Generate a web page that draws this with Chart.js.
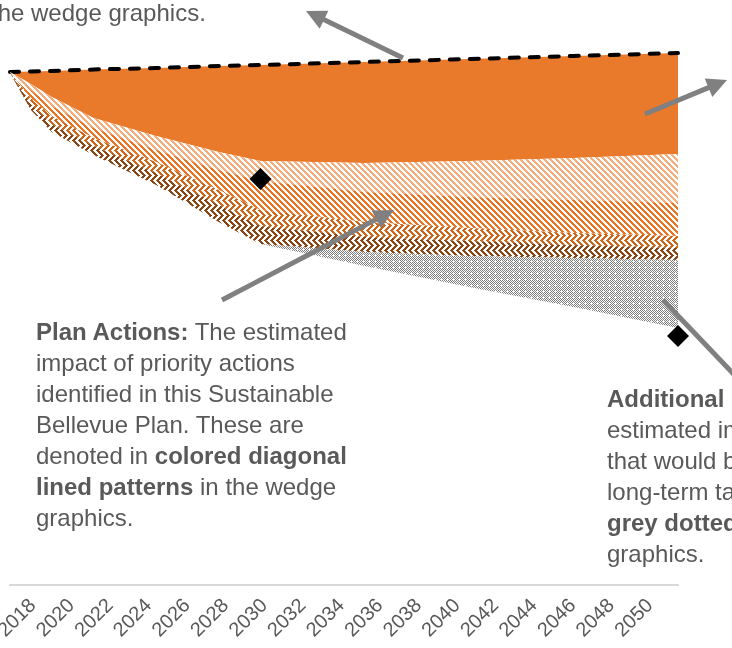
<!DOCTYPE html>
<html>
<head>
<meta charset="utf-8">
<script src="https://cdn.jsdelivr.net/npm/chart.js@4.4.1/dist/chart.umd.min.js"></script>
<style>
  html, body { margin: 0; padding: 0; background: #fff; overflow: hidden; }
  #wrap { position: relative; width: 732px; height: 648px; overflow: hidden; }
  #chartBox { position: absolute; left: 0; top: 0; width: 732px; height: 648px; }
  #arrows { position: absolute; left: 0; top: 0; }
  .note {
    position: absolute;
    font-family: 'Liberation Sans', Arial, sans-serif;
    font-size: 24px;
    line-height: 31px;
    color: #595959;
    white-space: nowrap;
  }
</style>
</head>
<body>
<div id="wrap">
  <div id="chartBox"><canvas id="myChart"></canvas></div>
  <svg id="arrows" width="732" height="648"></svg>
  <div class="note" style="left:-9px; top:-3px;">the wedge graphics.</div>
  <div class="note" style="left:36px; top:316px;"><b>Plan Actions:</b> The estimated<br>impact of priority actions<br>identified in this Sustainable<br>Bellevue Plan. These are<br>denoted in <b>colored diagonal<br>lined patterns</b> in the wedge<br>graphics.</div>
  <div class="note" style="left:607px; top:383px;"><b>Additional&nbsp;&nbsp;&nbsp; Actions:</b> The<br>estimated impact of actions<br>that would be needed to meet<br>long-term targets. These are in<br><b>grey dotted patterns</b> in the wedge<br>graphics.</div>
</div>
<script>
// wedge values, stacked from the bottom up
const years = [2018, 2019, 2020, 2022, 2025, 2028, 2030, 2035, 2040, 2045, 2050];
const remaining = [1024, 950, 906, 860, 800, 726, 682, 638, 596, 556, 514];
const additionalActions = [0, 0, 0, 0, 0, 0, 0, 28, 62, 98, 136];
const planAction4 = [0, 12, 16, 18, 24, 34, 36, 30, 30, 26, 24];
const planAction3 = [1, 12, 16, 16, 22, 30, 32, 30, 26, 24, 24];
const planAction2 = [1, 16, 20, 20, 24, 40, 58, 60, 62, 66, 66];
const planAction1 = [0, 12, 18, 20, 28, 36, 40, 58, 72, 84, 98];
const existingPolicies = [0, 25, 52, 97, 136, 172, 192, 202, 204, 204, 202];

const targetYears = [2030, 2050];
const targetValues = [812, 498];

const tickYears = [2018, 2020, 2022, 2024, 2026, 2028, 2030, 2032, 2034, 2036, 2038, 2040, 2042, 2044, 2046, 2048, 2050];

const ctx = document.getElementById('myChart').getContext('2d');

function makePattern(w, h, bg, fg, test) {
  const c = document.createElement('canvas');
  c.width = w;
  c.height = h;
  const g = c.getContext('2d');
  g.fillStyle = bg;
  g.fillRect(0, 0, w, h);
  g.fillStyle = fg;
  for (let y = 0; y < h; y++) {
    for (let x = 0; x < w; x++) {
      if (test(x, y)) g.fillRect(x, y, 1, 1);
    }
  }
  return ctx.createPattern(c, 'repeat');
}

const diag = (x, y) => ((x - y) % 6 + 6) % 6 < 3;
const zigzag = (x, y) => {
  const d = y % 10;
  const yy = d < 5 ? d : 10 - d;
  return ((x - yy) % 6 + 6) % 6 < 3;
};
const dots = (x, y) => (x + y) % 2 === 0 && !(x % 6 === 3 && y % 6 === 3);

const lightHatch = makePattern(6, 6, '#ffffff', '#f4ad7d', diag);
const orangeHatch = makePattern(6, 6, '#ffffff', '#ea7524', diag);
const rustZigzag = makePattern(6, 10, '#ffffff', '#cc671c', zigzag);
const brownZigzag = makePattern(6, 10, '#ffffff', '#8a4715', zigzag);
const greyDots = makePattern(6, 6, '#ffffff', '#7e7e7e', dots);

function toPoints(values) {
  return values.map((v, i) => ({ x: years[i], y: v }));
}

function wedge(label, values, fill) {
  return {
    label: label,
    data: toPoints(values),
    fill: '-1',
    backgroundColor: fill,
    borderWidth: 0,
    pointRadius: 0,
  };
}

const myChart = new Chart(ctx, {
  type: 'line',
  data: {
    datasets: [
      {
        label: 'Remaining',
        data: toPoints(remaining),
        fill: false,
        backgroundColor: 'rgba(0,0,0,0)',
        borderWidth: 0,
        pointRadius: 0,
      },
      wedge('Additional actions', additionalActions, greyDots),
      wedge('Plan action 4', planAction4, brownZigzag),
      wedge('Plan action 3', planAction3, rustZigzag),
      wedge('Plan action 2', planAction2, orangeHatch),
      wedge('Plan action 1', planAction1, lightHatch),
      {
        label: 'Existing policies',
        data: toPoints(existingPolicies),
        fill: '-1',
        backgroundColor: '#ea7a2b',
        borderColor: '#000000',
        borderWidth: 4,
        borderDash: [9, 11],
        borderCapStyle: 'round',
        pointRadius: 0,
        clip: false,
      },
      {
        label: 'Targets',
        data: targetYears.map((yr, i) => ({ x: yr, y: targetValues[i] })),
        stack: 'targets',
        order: -1,
        showLine: false,
        pointStyle: 'rectRot',
        pointRadius: 11,
        pointBackgroundColor: '#000000',
        pointBorderWidth: 0,
        clip: false,
      },
    ],
  },
  options: {
    responsive: true,
    maintainAspectRatio: false,
    animation: false,
    layout: { autoPadding: false, padding: { left: 10, right: 54, top: 0, bottom: 0 } },
    elements: { line: { tension: 0 } },
    plugins: {
      legend: { display: false },
      tooltip: { enabled: false },
    },
    scales: {
      x: { type: 'linear', min: 2018, max: 2050, display: false },
      x2: {
        type: 'linear',
        position: 'bottom',
        min: 2016.807,
        max: 2051.454,
        afterBuildTicks: (axis) => {
          axis.ticks = tickYears.map((v) => ({ value: v }));
        },
        afterFit: (axis) => {
          axis.height = 63;
          axis.paddingLeft = 0;
          axis.paddingRight = 0;
          axis.paddingTop = 0;
          axis.paddingBottom = 0;
        },
        grid: { display: false, drawTicks: false },
        border: { display: true, color: '#d9d9d9', width: 2 },
        ticks: {
          autoSkip: false,
          minRotation: 45,
          maxRotation: 45,
          padding: 9,
          color: '#595959',
          font: { family: 'Liberation Sans', size: 20 },
          callback: (v) => String(v),
        },
      },
      y: { display: false, stacked: true, min: 0, max: 1170 },
    },
  },
});

// annotation arrows
function drawArrows() {
  const svg = document.getElementById('arrows');
  const list = [
    [403, 58, 306, 11],
    [645, 114, 727, 80],
    [222, 300, 394, 210],
    [663, 300, 763, 405],
  ];
  let out = '';
  list.forEach(([x1, y1, x2, y2]) => {
    const len = Math.hypot(x2 - x1, y2 - y1);
    const ux = (x2 - x1) / len;
    const uy = (y2 - y1) / len;
    const head = 20;
    const half = 10;
    const bx = x2 - ux * head;
    const by = y2 - uy * head;
    out += `<line x1="${x1}" y1="${y1}" x2="${bx + ux * 2}" y2="${by + uy * 2}" stroke="#808080" stroke-width="5"/>`;
    out += `<polygon points="${x2},${y2} ${bx - uy * half},${by + ux * half} ${bx + uy * half},${by - ux * half}" fill="#808080"/>`;
  });
  svg.innerHTML = out;
}

drawArrows();
</script>
</body>
</html>
